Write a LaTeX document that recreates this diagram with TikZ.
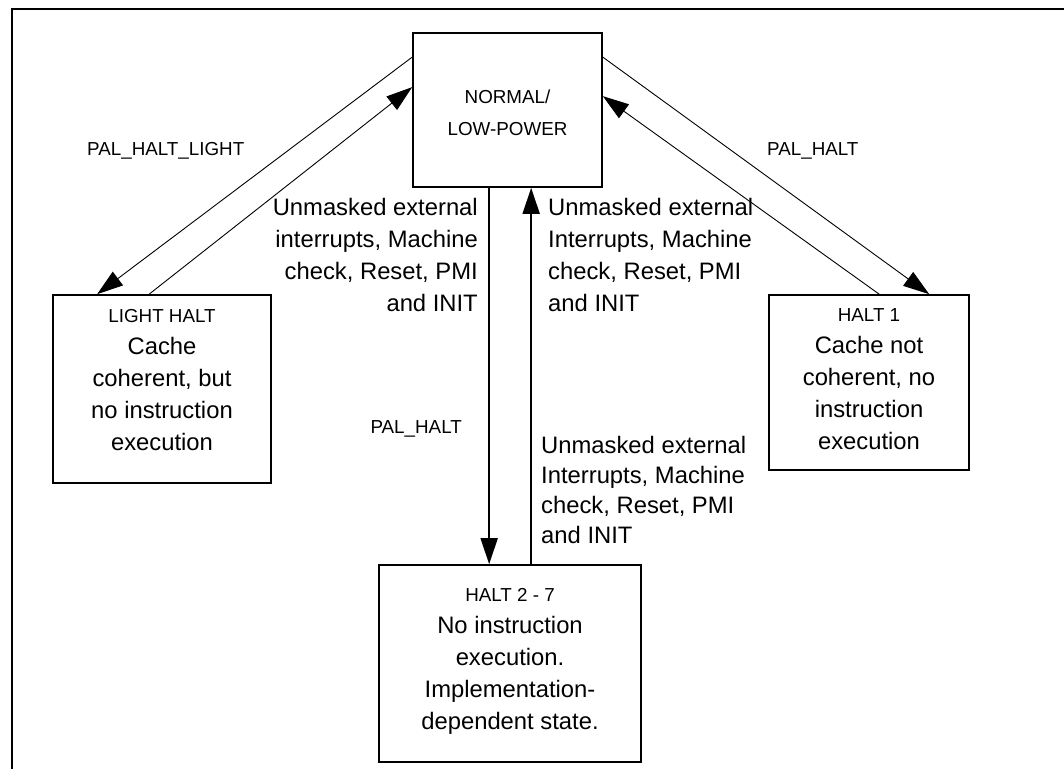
\documentclass[tikz,border=0pt]{standalone}
\usepackage{fontspec}
\setmainfont{Liberation Sans}
\usetikzlibrary{arrows.meta,calc}
\newcommand\smallft{\fontsize{18.8}{32}\selectfont}
\begin{document}
\begin{tikzpicture}[x=1pt,y=-1pt,
  box/.style={draw,line width=1.7pt,inner sep=0pt},
  smalltxt/.style={font=\fontsize{18.8}{32}\selectfont,inner sep=0pt},
  bigtxt/.style={font=\fontsize{23.8}{32}\selectfont,inner sep=0pt},
  thinarrow/.style={line width=0.9pt,-{Triangle[length=26pt,width=17pt]}},
  thickarrow/.style={line width=1.8pt,-{Triangle[length=26pt,width=17pt]}},
  frameline/.style={line width=1.3pt}]
\useasboundingbox (0,0) rectangle (1064,769);
\draw[frameline] (12,769) -- (12,9) -- (1064,9);

% boxes
\node[box,minimum width=189pt,minimum height=154pt] (normal) at (507.5,110) {};
\node[box,minimum width=218pt,minimum height=188pt] (light) at (162,389) {};
\node[box,minimum width=200pt,minimum height=175pt] (halt1) at (869,382.5) {};
\node[box,minimum width=262pt,minimum height=197pt] (halt27) at (510,663.5) {};

% box texts
\node[smalltxt,align=center,anchor=north] (tnormal) at (507.5,89.3) {NORMAL/\\LOW-POWER};
\node[bigtxt,align=center,anchor=north] (tlight) at (162,309.3) {{\smallft LIGHT HALT}\\Cache\\coherent, but\\no instruction\\execution};
\node[bigtxt,align=center,anchor=north] (thalt1) at (869,308.5) {{\smallft HALT 1}\\Cache not\\coherent, no\\instruction\\execution};
\node[bigtxt,align=center,anchor=north] (thalt27) at (510,588.5) {{\smallft HALT 2 - 7}\\No instruction\\execution.\\Implementation-\\dependent state.};

% connectors
\draw[thinarrow] ($(normal.north west)+(0,25)$) -- ($(light.north west)+(45,0)$);
\draw[thinarrow] ($(light.north west)+(97,0)$) -- ($(normal.north west)+(0,55)$);
\draw[thinarrow] ($(normal.north east)+(0,25)$) -- ($(halt1.north west)+(161,0)$);
\draw[thinarrow] ($(halt1.north west)+(111,0)$) -- ($(normal.north east)+(0,64)$);
\draw[thickarrow] ($(normal.south west)+(77,0)$) -- ($(halt27.north west)+(111,0)$);
\draw[thickarrow] ($(halt27.north west)+(153,0)$) -- ($(normal.south west)+(119,0)$);

% labels
\node[smalltxt,anchor=base west] (lpal1) at (87,155) {PAL\_HALT\_LIGHT};
\node[smalltxt,anchor=base west] (lpal2) at (767,155) {PAL\_HALT};
\node[smalltxt,anchor=base east] (lpal3) at (462,433) {PAL\_HALT};
\node[bigtxt,align=right,anchor=north east] (lint1) at (478,197.7) {Unmasked external\\interrupts, Machine\\check, Reset, PMI\\and INIT};
\node[bigtxt,align=left,anchor=north west] (lint2) at (548,197.7) {Unmasked external\\Interrupts, Machine\\check, Reset, PMI\\and INIT};
\node[bigtxt,font=\fontsize{23.8}{30}\selectfont,align=left,anchor=north west] (lint3) at (541,435.7) {Unmasked external\\Interrupts, Machine\\check, Reset, PMI\\and INIT};
\end{tikzpicture}
\end{document}
